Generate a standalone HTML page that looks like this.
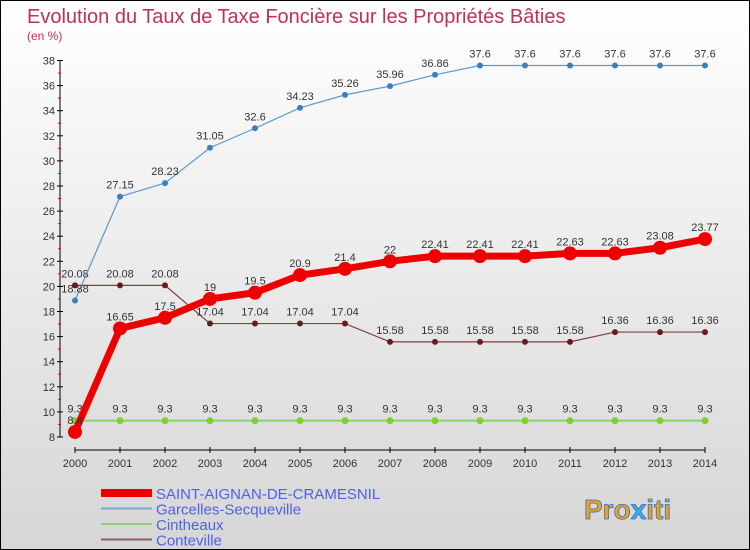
<!DOCTYPE html>
<html><head><meta charset="utf-8"><style>
body{margin:0;}
#c{position:relative;width:748px;height:548px;border:1px solid #000;background:linear-gradient(#ffffff,#d6d6d6);overflow:hidden;font-family:"Liberation Sans",sans-serif;}
svg text{font-family:"Liberation Sans",sans-serif;}
</style></head><body>
<div id="c">
<svg id="s" width="748" height="548">
<text x="26" y="22" font-size="20" fill="#c0305a">Evolution du Taux de Taxe Foncière sur les Propriétés Bâties</text>
<text x="26" y="39" font-size="12" fill="#c0305a">(en %)</text>
<g id="axes"></g><g id="series"></g><g id="legend"></g>
<g><text x="583" y="518" font-size="28" font-weight="bold" fill="#f0a020" stroke="#3070c0" stroke-width="0.8">Pro<tspan fill="#40b0e0">x</tspan>iti</text></g>
</svg></div>
<script>
const years=[2000,2001,2002,2003,2004,2005,2006,2007,2008,2009,2010,2011,2012,2013,2014];
const yTicks=[8,10,12,14,16,18,20,22,24,26,28,30,32,34,36,38];
const saint=[8.4,16.65,17.5,19,19.5,20.9,21.4,22,22.41,22.41,22.41,22.63,22.63,23.08,23.77];
const garcelles=[18.88,27.15,28.23,31.05,32.6,34.23,35.26,35.96,36.86,37.6,37.6,37.6,37.6,37.6,37.6];
const cintheaux=[9.3,9.3,9.3,9.3,9.3,9.3,9.3,9.3,9.3,9.3,9.3,9.3,9.3,9.3,9.3];
const conteville=[20.08,20.08,20.08,17.04,17.04,17.04,17.04,15.58,15.58,15.58,15.58,15.58,16.36,16.36,16.36];
const names=["SAINT-AIGNAN-DE-CRAMESNIL","Garcelles-Secqueville","Cintheaux","Conteville"];
const NS="http://www.w3.org/2000/svg";
const X=i=>74+i*45, Y=v=>436-(v-8)*12.55;
function mk(p,t,a){const e=document.createElementNS(NS,t);for(const k in a)e.setAttribute(k,a[k]);p.appendChild(e);return e;}
const ax=document.getElementById('axes');
let l=mk(ax,'line',{x1:59,y1:Y(38),x2:59,y2:Y(8),stroke:'#000'});


l=mk(ax,'line',{x1:X(0),y1:449,x2:X(14),y2:449,stroke:'#000'});


yTicks.forEach((v,i)=>{
 mk(ax,'line',{x1:56,y1:Y(v),x2:62,y2:Y(v),stroke:'#000'});
 if(i<yTicks.length-1)mk(ax,'line',{x1:57,y1:Y(v+1),x2:60,y2:Y(v+1),stroke:'#e00'});
 const t=mk(ax,'text',{x:54,y:Y(v)+4,'font-size':11,'text-anchor':'end',fill:'#333'});t.textContent=v;
 
 
});
years.forEach((y,i)=>{
 mk(ax,'line',{x1:X(i),y1:446,x2:X(i),y2:452,stroke:'#000'});
 const t=mk(ax,'text',{x:X(i),y:466,'font-size':11,'text-anchor':'middle',fill:'#333'});t.textContent=y;
 
 
});
const sg=document.getElementById('series');
function series(data,color,lw,r,mc,name){
 const g=mk(sg,'g',{});
 
 
 mk(g,'polyline',{points:data.map((v,i)=>X(i)+','+Y(v)).join(' '),fill:'none',stroke:color,'stroke-width':lw});
 data.forEach((v,i)=>{
  const c=mk(g,'circle',{cx:X(i),cy:Y(v),r:r,fill:mc});
  
  
  const t=mk(g,'text',{x:X(i),y:Y(v)-8,'font-size':11,'text-anchor':'middle',fill:'#333'});t.textContent=v;
 });
}
series(cintheaux,'#8fd070',2,3.5,'#80d030','series-cintheaux');
series(conteville,'#804040',1.2,3,'#6a1a1a','series-conteville');
series(garcelles,'#5a9ad0',1.2,3,'#3a80c0','series-garcelles');
series(saint,'#ee0000',7,7,'#ee0000','series-saint-aignan');
const lg=document.getElementById('legend');
const lc=['#ee0000','#7aa8cc','#8fd070','#906060'],lw=[8,2,2,2];
names.forEach((n,i)=>{
 const y=492+i*15.5;
 const g=mk(lg,'g',{});
 
 
 mk(g,'line',{x1:100,y1:y,x2:151,y2:y,stroke:lc[i],'stroke-width':lw[i]});
 const t=mk(g,'text',{x:155,y:y+6,'font-size':15,fill:'#5060e8'});t.textContent=n;
});
</script></body></html>
